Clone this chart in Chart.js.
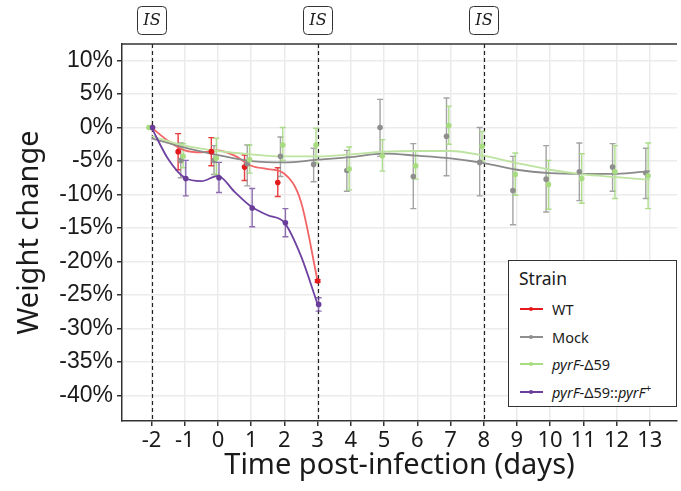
<!DOCTYPE html>
<html>
<head>
<meta charset="utf-8">
<script src="https://cdn.jsdelivr.net/npm/chart.js@4"></script>
<style>
  body { margin: 0; background: #fff; }
  #wrap { position: relative; width: 681px; height: 491px; }
  #legend {
    position: absolute; left: 508px; top: 260px; width: 169px; height: 147px;
    border: 1.3px solid #333; background: #fff; box-sizing: border-box;
    font-family: "Noto Sans", sans-serif; color: #1a1a1a;
  }
  #legend .title { position: absolute; left: 10px; top: 5px; font-size: 17.5px; }
  #legend .row { position: absolute; left: 11px; height: 20px; font-size: 14.5px; line-height: 20px; white-space: nowrap; }
  #legend .key { display: inline-block; position: relative; width: 23px; height: 20px; vertical-align: top; margin-right: 9px; }
  #legend .key i { position: absolute; left: 0; top: 9px; width: 23px; height: 2px; }
  #legend .key b { position: absolute; left: 9px; top: 8px; width: 4px; height: 4px; border-radius: 50%; }
  #legend sup { font-size: 10px; line-height: 0; }
</style>
</head>
<body>
<div id="wrap">
  <canvas id="chart"></canvas>
  <div id="legend"></div>
</div>
<script>
// tick labels
const xTicks = [-2, -1, 0, 1, 2, 3, 4, 5, 6, 7, 8, 9, 10, 11, 12, 13];
const yTicks = [-40, -35, -30, -25, -20, -15, -10, -5, 0, 5, 10];
const isDays = [-2, 3, 8];

// WT and complemented strain (days -2..3)
const shortDays = [-2, -1, 0, 1, 2, 3];
const wtMean = [0, -3.6, -3.6, -5.9, -8.2, -22.9];
const wtLow = [0, -6.3, -5.7, -7.9, -10.3, -23.1];
const wtHigh = [0, -0.9, -1.5, -4.1, -6.0, -22.7];
const compMean = [0, -7.6, -7.5, -12.0, -14.2, -26.4];
const compLow = [0, -10.2, -9.7, -14.8, -16.3, -27.4];
const compHigh = [0, -4.9, -5.2, -9.1, -12.1, -25.4];

// Mock and pyrF-Δ59 (days -2..13)
const longDays = xTicks;
const mockMean = [0, -4.9, -4.9, -5.4, -4.3, -5.5, -6.4, 0.0, -7.3, -1.3, -5.2, -9.4, -7.7, -6.6, -5.9, -6.8];
const mockLow = [0, -7.5, -7.0, -8.7, -7.3, -8.1, -9.5, -4.3, -12.1, -7.2, -10.2, -14.5, -12.6, -10.9, -9.5, -10.6];
const mockHigh = [0, -2.3, -2.7, -2.6, -1.4, -3.1, -3.4, 4.2, -2.4, 4.4, 0.0, -4.3, -2.7, -2.3, -2.4, -3.1];
const delMean = [0, -4.3, -4.6, -4.8, -2.6, -2.6, -6.2, -4.2, -5.7, 0.3, -2.8, -7.0, -8.5, -7.6, -6.6, -7.2];
const delLow = [0, -6.0, -7.0, -6.8, -4.9, -5.3, -9.3, -6.5, -7.7, -2.5, -5.0, -10.1, -12.2, -11.3, -10.6, -12.1];
const delHigh = [0, -2.4, -1.6, -2.6, 0.0, -0.1, -2.9, -1.8, -3.5, 3.2, -0.6, -3.8, -4.9, -3.9, -2.7, -2.3];

// smoothed trend lines
const wtFitDays = [-2, -1.5, -1, -0.5, 0, 0.5, 1, 1.5, 2, 2.5, 3];
const wtFit = [0, -2.0, -3.4, -3.7, -3.4, -4.2, -5.7, -6.2, -6.9, -11.1, -22.9];
const compFit = [0, -4.7, -7.5, -8.0, -7.2, -9.6, -11.8, -13.1, -14.2, -19.2, -26.4];
const mockFit = [-1.6, -3.0, -4.1, -5.0, -5.2, -4.8, -4.4, -3.9, -4.2, -4.6, -5.3, -6.3, -6.8, -6.9, -6.9, -6.5];
const delFit = [-1.3, -2.7, -3.5, -4.0, -4.3, -4.3, -4.0, -3.6, -3.5, -3.5, -4.2, -5.3, -6.3, -7.0, -7.4, -7.8];

const strains = [
  { name: 'WT', html: 'WT', color: '#e41a1c', line: '#f26466', bar: 'rgba(228,26,28,0.85)',
    dodge: d => (d === -2 || d === 3) ? 0 : -0.2,
    days: shortDays, mean: wtMean, low: wtLow, high: wtHigh, fitDays: wtFitDays, fit: wtFit },
  { name: 'Mock', html: 'Mock', color: '#8e8e8e', line: '#8a8a8a', bar: 'rgba(140,140,140,0.8)',
    dodge: d => d === -2 ? 0 : -0.12,
    days: longDays, mean: mockMean, low: mockLow, high: mockHigh, fitDays: longDays, fit: mockFit },
  { name: 'pyrF-Δ59', html: '<i>pyrF</i>-Δ59', color: '#a8dc80', line: '#bde3a0', bar: 'rgba(160,216,120,0.85)',
    dodge: d => d === -2 ? -0.08 : -0.05,
    days: longDays, mean: delMean, low: delLow, high: delHigh, fitDays: longDays, fit: delFit },
  { name: 'pyrF-Δ59::pyrF+', html: '<i>pyrF</i>-Δ59::<i>pyrF</i><sup>+</sup>', color: '#6a3d9a', line: '#6e42a0', bar: 'rgba(106,61,154,0.75)',
    dodge: d => 0.03,
    days: shortDays, mean: compMean, low: compLow, high: compHigh, fitDays: wtFitDays, fit: compFit }
];

const datasets = [];
strains.forEach((s, k) => {
  datasets.push({
    label: s.name,
    order: 4 - k,
    data: s.days.map((d, i) => ({ x: d + s.dodge(d), y: s.mean[i] })),
    backgroundColor: s.color, borderColor: s.color,
    pointRadius: 2.8, pointBorderWidth: 0, showLine: false,
    errLow: s.low, errHigh: s.high, errColor: s.bar
  });
  datasets.push({
    label: s.name + ' fit',
    order: 10 - k,
    data: s.fitDays.map((d, i) => ({ x: d, y: s.fit[i] })),
    borderColor: s.line, borderWidth: 1.8, pointRadius: 0,
    showLine: true, cubicInterpolationMode: 'monotone', fill: false
  });
});

const decorations = {
  id: 'decorations',
  beforeDatasetsDraw(chart) {
    const { ctx, chartArea: a, scales: { x, y } } = chart;
    ctx.save();
    // dashed infection lines
    ctx.strokeStyle = '#222';
    ctx.lineWidth = 1.2;
    ctx.setLineDash([4, 3]);
    isDays.forEach(d => {
      const px = Math.round(x.getPixelForValue(d)) + 0.5;
      ctx.beginPath(); ctx.moveTo(px, a.top); ctx.lineTo(px, a.bottom); ctx.stroke();
    });
    ctx.setLineDash([]);
    // error bars
    chart.data.datasets.forEach(ds => {
      if (!ds.errLow) return;
      ctx.strokeStyle = ds.errColor;
      ctx.lineWidth = 1.4;
      ds.data.forEach((p, i) => {
        const lo = ds.errLow[i], hi = ds.errHigh[i];
        if (lo === hi) return;
        const px = x.getPixelForValue(p.x);
        const y1 = y.getPixelForValue(lo), y2 = y.getPixelForValue(hi);
        ctx.beginPath();
        ctx.moveTo(px, y1); ctx.lineTo(px, y2);
        ctx.moveTo(px - 3, y1); ctx.lineTo(px + 3, y1);
        ctx.moveTo(px - 3, y2); ctx.lineTo(px + 3, y2);
        ctx.stroke();
      });
    });
    ctx.restore();
  },
  afterDraw(chart) {
    const { ctx, chartArea: a, scales: { x } } = chart;
    ctx.save();
    // top border of panel
    ctx.strokeStyle = '#333';
    ctx.lineWidth = 1.5;
    ctx.beginPath(); ctx.moveTo(a.left, a.top); ctx.lineTo(a.right, a.top); ctx.stroke();
    // "IS" labels
    ctx.lineWidth = 1;
    ctx.font = 'italic 16px "DejaVu Serif"';
    ctx.textAlign = 'center';
    ctx.textBaseline = 'middle';
    isDays.forEach(d => {
      const cx = Math.round(x.getPixelForValue(d));
      ctx.beginPath();
      ctx.roundRect(cx - 14.5, 6.5, 29, 28, 4);
      ctx.fillStyle = '#fff'; ctx.fill();
      ctx.strokeStyle = '#333'; ctx.stroke();
      ctx.fillStyle = '#1a1a1a';
      ctx.fillText('IS', cx, 21);
    });
    ctx.restore();
  }
};

new Chart(document.getElementById('chart'), {
  type: 'scatter',
  data: { datasets },
  options: {
    responsive: true,
    maintainAspectRatio: false,
    animation: false,
    layout: { padding: { top: 44, right: 0, left: 0, bottom: 0 } },
    plugins: { legend: { display: false }, tooltip: { enabled: false } },
    scales: {
      x: {
        type: 'linear', min: -2.89, max: 13.82,
        afterFit: s => { s.height = 70; },
        afterBuildTicks: s => { s.ticks = xTicks.map(v => ({ value: v })); },
        ticks: { includeBounds: false, color: '#1a1a1a', padding: 2,
          font: { family: 'Noto Sans', size: 22 }, maxRotation: 0, autoSkip: false },
        grid: { color: '#ebebeb', lineWidth: 1.5, tickColor: '#333', tickLength: 5 },
        border: { color: '#333', width: 1.5 },
        title: { display: true, text: 'Time post-infection (days)', color: '#1a1a1a',
          font: { family: 'Noto Sans', size: 29 }, padding: { top: 0, bottom: 8 } }
      },
      y: {
        type: 'linear', min: -43.8, max: 12.47,
        afterFit: s => { s.width = 122; },
        afterBuildTicks: s => { s.ticks = yTicks.map(v => ({ value: v })); },
        ticks: { includeBounds: false, color: '#1a1a1a', padding: 4,
          font: { family: 'Liberation Sans', size: 23 }, callback: v => v + '%' },
        grid: { color: '#ebebeb', lineWidth: 1.5, tickColor: '#333', tickLength: 5 },
        border: { color: '#333', width: 1.5 },
        title: { display: true, text: 'Weight change', color: '#1a1a1a',
          font: { family: 'Noto Sans', size: 29 }, padding: { top: 12, bottom: 0 } }
      }
    }
  },
  plugins: [decorations]
});

// legend
const legend = document.getElementById('legend');
legend.innerHTML = '<div class="title">Strain</div>' + strains.map((s, i) =>
  `<div class="row" style="top:${38 + i * 27.5}px"><span class="key"><i style="background:${s.color}"></i><b style="background:${s.color}"></b></span>${s.html}</div>`
).join('');
</script>
</body>
</html>
